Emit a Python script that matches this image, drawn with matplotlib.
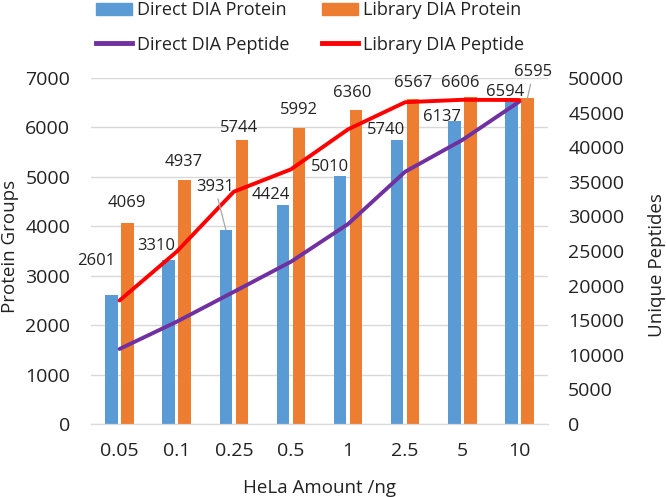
import numpy as np
import matplotlib.pyplot as plt
from matplotlib.patches import Patch
from matplotlib.lines import Line2D

plt.rcParams['font.family'] = ['Open Sans', 'DejaVu Sans']

# data
amounts = ['0.05', '0.1', '0.25', '0.5', '1', '2.5', '5', '10']
direct_protein = [2601, 3310, 3931, 4424, 5010, 5740, 6137, 6594]
library_protein = [4069, 4937, 5744, 5992, 6360, 6567, 6606, 6595]
direct_peptide = [10840, 14780, 19100, 23450, 28900, 36460, 41040, 46600]
library_peptide = [17850, 24900, 33570, 36800, 42580, 46500, 46850, 46820]

# label nudges (pixels) from the top of each bar
direct_nudge = [(-15, 34), (-12, 14), (-11, 43), (-12, 10), (-10, 9), (-11, 10), (-12, 4), (-6, 6)]
library_nudge = [(-1, 20), (-1, 18), (-3, 12), (0, 18), (-4, 17), (0, 16), (-10, 14), (6, 26)]

c_blue = '#5B9BD5'
c_orange = '#ED7D31'
c_purple = '#7030A0'
c_red = '#FF0000'
c_text = '#222222'

fig = plt.figure(figsize=(6.66, 4.97), dpi=100)
ax = fig.add_axes([91/666, 1-424/497, (548-91)/666, (424-78)/497])
ax2 = ax.twinx()

x = np.arange(len(amounts))
w = 0.22
off = 0.14
ax.bar(x - off, direct_protein, w, color=c_blue, zorder=2)
ax.bar(x + off, library_protein, w, color=c_orange, zorder=2)

ax2.plot(x, direct_peptide, color=c_purple, lw=2.8, solid_capstyle='round')
ax2.plot(x, library_peptide, color=c_red, lw=2.8, solid_capstyle='round')

ax.set_xlim(-0.5, len(amounts) - 0.5)
ax.set_ylim(0, 7000)
ax.set_yticks(np.arange(0, 7001, 1000))
ax2.set_ylim(0, 50000)
ax2.set_yticks(np.arange(0, 50001, 5000))
ax.set_xticks(x)
ax.set_xticklabels(amounts)

ax.grid(axis='y', color='#D9D9D9', lw=1, zorder=0)
ax.set_axisbelow(True)
for a in (ax, ax2):
    for s in ('top', 'left', 'right'):
        a.spines[s].set_visible(False)
    a.spines['bottom'].set_color('#D9D9D9')
ax.tick_params(axis='both', length=0, labelsize=14, colors=c_text)
ax.tick_params(axis='y', pad=15)
ax.tick_params(axis='x', pad=13)
ax2.tick_params(axis='y', length=0, labelsize=14, colors=c_text, pad=14.5)

ax.set_ylabel('Protein Groups', fontsize=13.5, color=c_text, va='center', ha='center')
ax.yaxis.set_label_coords(-0.177, 0.512)
ax2.set_ylabel('Unique Peptides', fontsize=13.5, color=c_text, va='center', ha='center')
ax2.yaxis.set_label_coords(1.2385, 0.46)
ax.set_xlabel('HeLa Amount /ng', fontsize=13.5, color=c_text, va='center', ha='center')
ax.xaxis.set_label_coords(0.499, -0.185)

# data labels
for i in range(len(amounts)):
    for val, xb, (dx, dy) in ((direct_protein[i], x[i] - off, direct_nudge[i]),
                              (library_protein[i], x[i] + off, library_nudge[i])):
        lead = None
        if val in (3931, 6595):
            lead = dict(arrowstyle='-', color='#A6A6A6', lw=0.9, shrinkA=1, shrinkB=0)
        ax2.annotate(str(val), xy=(xb, val), xycoords=ax.transData,
                     xytext=(dx, dy), textcoords='offset pixels',
                     ha='center', va='center', fontsize=12, color=c_text,
                     arrowprops=lead, zorder=5)

handles = [Patch(color=c_blue), Line2D([], [], color=c_purple, lw=3.5),
           Patch(color=c_orange), Line2D([], [], color=c_red, lw=3.5)]
labels = ['Direct DIA Protein', 'Direct DIA Peptide',
          'Library DIA Protein', 'Library DIA Peptide']
fig.legend(handles, labels, ncol=2, loc='upper center', bbox_to_anchor=(0.4655, 1.03),
           frameon=False, fontsize=13, handlelength=2.0, handletextpad=0.25,
           columnspacing=1.83, labelspacing=0.9, labelcolor=c_text)

fig.savefig('out.png', dpi=100)
